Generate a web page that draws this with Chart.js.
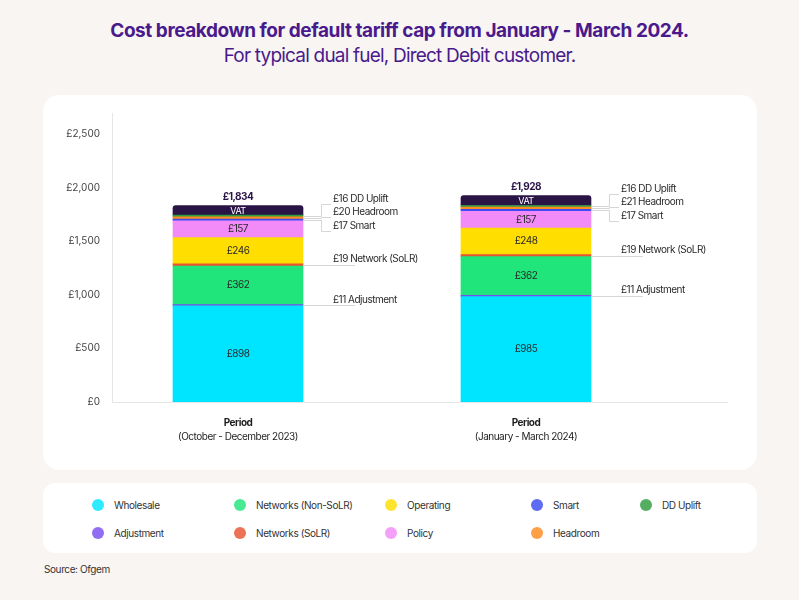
<!DOCTYPE html>
<html><head><meta charset="utf-8">
<script src="https://cdn.jsdelivr.net/npm/chart.js@4.4.1/dist/chart.umd.min.js"></script>
<style>
html,body{margin:0;padding:0;}
body{width:799px;height:600px;background:#F8F5F3;position:relative;overflow:hidden;font-family:Inter,'Noto Sans',sans-serif;}
#title{position:absolute;left:0;width:799px;top:19px;text-align:center;font-weight:700;font-size:19px;color:#4A1A8C;letter-spacing:-0.45px;line-height:24px;}
#subtitle{position:absolute;left:0;width:799px;top:44px;text-align:center;font-size:19px;font-weight:400;color:#4A1A8C;letter-spacing:-0.8px;line-height:24px;}
#card{position:absolute;left:43px;top:95px;width:714px;height:375px;background:#fff;border-radius:16px;}
#card canvas{position:absolute;left:0;top:0;}
#legend{position:absolute;left:43px;top:483px;width:714px;height:70px;background:#fff;border-radius:12px;}
.li{position:absolute;font-size:10px;color:#333;line-height:12px;white-space:nowrap;letter-spacing:-0.4px;}
.dot{position:absolute;width:12px;height:12px;border-radius:50%;}
#source{position:absolute;left:44px;top:563px;font-size:10px;color:#333;letter-spacing:-0.4px;}
</style></head>
<body>
<div id="title">Cost breakdown for default tariff cap from January - March 2024.</div>
<div id="subtitle">For typical dual fuel, Direct Debit customer.</div>
<div id="card"><canvas id="c" width="714" height="375"></canvas></div>
<div id="legend"></div>
<div id="source">Source: Ofgem</div>
<script>
// ---- Data ----
const periodTitles = ['Period', 'Period'];
const periodSubtitles = ['(October - December 2023)', '(January - March 2024)'];
const totals = [1834, 1928];

const wholesale = [898, 985];
const adjustment = [11, 11];
const networksNonSoLR = [362, 362];
const networksSoLR = [19, 19];
const operating = [246, 248];
const policy = [157, 157];
const smart = [17, 17];
const headroom = [20, 21];
const ddUplift = [16, 16];
const vat = [88, 92];

const yTicks = [0, 500, 1000, 1500, 2000, 2500];

// series in stacking order (bottom -> top)
const series = [
  {name:'Wholesale', values:wholesale, color:'#00E5FF', mode:'inside'},
  {name:'Adjustment', values:adjustment, color:'#7A4DF0', mode:'side', note:'Adjustment'},
  {name:'Networks (Non-SoLR)', values:networksNonSoLR, color:'#1FE57A', mode:'inside'},
  {name:'Networks (SoLR)', values:networksSoLR, color:'#E8542F', mode:'side', note:'Network (SoLR)'},
  {name:'Operating', values:operating, color:'#FFDE00', mode:'inside'},
  {name:'Policy', values:policy, color:'#F28AF7', mode:'inside'},
  {name:'Smart', values:smart, color:'#3B4CF2', mode:'top', note:'Smart', slot:2},
  {name:'Headroom', values:headroom, color:'#FF8A1F', mode:'top', note:'Headroom', slot:1},
  {name:'DD Uplift', values:ddUplift, color:'#2E9C3F', mode:'top', note:'DD Uplift', slot:0},
  {name:'VAT', values:vat, color:'#2A1446', mode:'vat'}
];
const legendOrder = ['Wholesale','Networks (Non-SoLR)','Operating','Smart','DD Uplift','Adjustment','Networks (SoLR)','Policy','Headroom'];

// ---- Legend (HTML) ----
const legendCols = [55, 197, 348, 494, 603];
const legendRows = [22, 50];
const legEl = document.getElementById('legend');
legendOrder.forEach((n, k) => {
  const s = series.find(d => d.name === n);
  const cx = legendCols[k % 5], cy = legendRows[Math.floor(k / 5)];
  const dot = document.createElement('div');
  dot.className = 'dot';
  dot.style.left = (cx - 6) + 'px'; dot.style.top = (cy - 6) + 'px';
  dot.style.background = s.color; dot.style.opacity = '0.82';
  legEl.appendChild(dot);
  const t = document.createElement('div');
  t.className = 'li'; t.textContent = n;
  t.style.left = (cx + 16) + 'px'; t.style.top = (cy - 6) + 'px';
  legEl.appendChild(t);
});

const fmt = v => '£' + v.toLocaleString('en-GB');
const FONT = 'Inter, "Noto Sans", sans-serif';

const labelPlugin = {
  id: 'labels',
  afterDatasetsDraw(chart) {
    const ctx = chart.ctx;
    const metas = series.map((s, i) => chart.getDatasetMeta(i));
    ctx.save();
    ctx.letterSpacing = '-0.5px';
    totals.forEach((tot, i) => {
      const bars = metas.map(m => m.data[i]);
      const b0 = bars[0];
      const half = b0.width / 2;
      const right = b0.x + half;
      // inside labels
      series.forEach((s, k) => {
        const b = bars[k];
        const cy = (b.y + b.base) / 2;
        if (s.mode === 'inside') {
          ctx.font = '10px ' + FONT; ctx.fillStyle = '#2a2a2a';
          ctx.textAlign = 'center'; ctx.textBaseline = 'middle';
          ctx.fillText(fmt(s.values[i]), b.x, cy);
        } else if (s.mode === 'vat') {
          ctx.font = '9px ' + FONT; ctx.fillStyle = '#ffffff';
          ctx.textAlign = 'center'; ctx.textBaseline = 'middle';
          ctx.fillText('VAT', b.x, cy + 0.5);
        }
      });
      // side notes
      const ddBar = bars[series.findIndex(s => s.name === 'DD Uplift')];
      const ddTop = ddBar.y;
      ctx.strokeStyle = '#d6d6d6'; ctx.lineWidth = 1;
      series.forEach((s, k) => {
        const b = bars[k];
        const cy = (b.y + b.base) / 2;
        const text = '£' + s.values[i] + ' ' + s.note;
        if (s.mode === 'side') {
          ctx.beginPath(); ctx.moveTo(right, Math.round(cy) + 0.5); ctx.lineTo(right + 52, Math.round(cy) + 0.5); ctx.stroke();
          ctx.font = '10px ' + FONT; ctx.fillStyle = '#2a2a2a';
          ctx.textAlign = 'left'; ctx.textBaseline = 'middle';
          ctx.fillText(text, right + 30, cy - 5.5);
        } else if (s.mode === 'top') {
          const ly = ddTop + [-16, -3, 11][s.slot];
          const yy = Math.round(ly + 5) + 0.5;
          ctx.beginPath();
          ctx.moveTo(right, Math.round(cy) + 0.5);
          ctx.lineTo(right + 18.5, Math.round(cy) + 0.5);
          ctx.lineTo(right + 18.5, yy);
          ctx.lineTo(right + 28, yy);
          ctx.stroke();
          ctx.font = '10px ' + FONT; ctx.fillStyle = '#2a2a2a';
          ctx.textAlign = 'left'; ctx.textBaseline = 'middle';
          ctx.fillText(text, right + 30, ly);
        }
      });
      // total
      const topBar = bars[bars.length - 1];
      ctx.font = 'bold 10px ' + FONT; ctx.fillStyle = '#2A1446';
      ctx.textAlign = 'center'; ctx.textBaseline = 'middle';
      ctx.fillText(fmt(tot), b0.x, topBar.y - 9);
      // category labels
      const bottom = chart.chartArea.bottom;
      ctx.fillStyle = '#1e1e1e';
      ctx.font = 'bold 10px ' + FONT;
      ctx.fillText(periodTitles[i], b0.x, bottom + 21);
      ctx.font = '10px ' + FONT;
      ctx.fillText(periodSubtitles[i], b0.x, bottom + 35);
    });
    ctx.restore();
  }
};

new Chart(document.getElementById('c'), {
  type: 'bar',
  data: {
    datasets: series.map(s => ({
      label: s.name,
      data: s.values.map((v, i) => ({x: i, y: v})),
      backgroundColor: s.color,
      barThickness: 130,
      stack: 'a',
      borderWidth: 0,
      borderRadius: s.mode === 'vat' ? {topLeft: 3, topRight: 3, bottomLeft: 0, bottomRight: 0} : 0
    }))
  },
  options: {
    responsive: false,
    animation: false,
    layout: {padding: {top: 17, right: 30, bottom: 68, left: 0}},
    plugins: {legend: {display: false}, tooltip: {enabled: false}},
    scales: {
      x: {
        type: 'linear', min: -0.4375, max: 1.698, offset: false,
        ticks: {display: false},
        grid: {display: false, drawTicks: false, offset: false},
        border: {display: true, color: '#e6e6e6'}
      },
      y: {
        stacked: true, min: 0, max: 2700,
        afterBuildTicks: s => { s.ticks = yTicks.map(v => ({value: v})); },
        afterFit: s => { s.width = 69; },
        ticks: {padding: 12, color: '#444', font: {size: 10, family: FONT}, callback: v => fmt(v)},
        grid: {display: false, drawTicks: false},
        border: {display: true, color: '#e6e6e6'}
      }
    }
  },
  plugins: [labelPlugin]
});
</script>
</body></html>
